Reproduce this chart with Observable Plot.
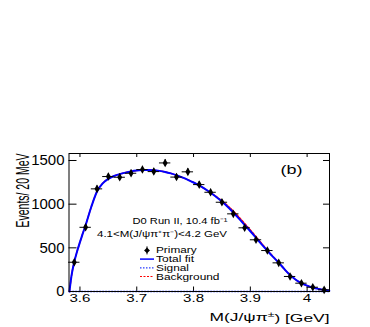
<!DOCTYPE html>
<html>
<head>
<meta charset="utf-8">
<script src="https://cdn.jsdelivr.net/npm/d3@7"></script>
<script src="https://cdn.jsdelivr.net/npm/@observablehq/plot@0.6"></script>
<style>
  html, body { margin: 0; padding: 0; background: #fff; }
  #chart { width: 370px; height: 327px; }
</style>
</head>
<body>
<div id="chart"></div>
<script>
// ---- data ----
const massBins = [3.59, 3.61, 3.63, 3.65, 3.67, 3.69, 3.71, 3.73, 3.75, 3.77, 3.79, 3.81, 3.83, 3.85, 3.87, 3.89, 3.91, 3.93, 3.95, 3.97, 3.99, 4.01, 4.03];
const counts   = [335, 735, 1175, 1316, 1308, 1354, 1396, 1373, 1472, 1310, 1370, 1224, 1136, 1022, 889, 729, 592, 469, 328, 172, 95, 49, 19];
const countErr = [18, 27, 34, 36, 36, 37, 37, 37, 38, 36, 37, 35, 34, 32, 30, 27, 24, 22, 18, 13, 10, 7, 4];

const fitMass = [3.5815, 3.585, 3.59, 3.595, 3.60, 3.605, 3.61, 3.62, 3.63, 3.64, 3.65, 3.66, 3.67, 3.68, 3.69, 3.70, 3.71, 3.72, 3.73, 3.74, 3.75, 3.76, 3.77, 3.78, 3.79, 3.80, 3.81, 3.82, 3.83, 3.84, 3.85, 3.86, 3.87, 3.88, 3.89, 3.90, 3.91, 3.92, 3.93, 3.94, 3.95, 3.96, 3.97, 3.98, 3.99, 4.00, 4.01, 4.02, 4.03, 4.039];
const fitTotal = [0, 175, 340, 460, 565, 665, 760, 970, 1145, 1238, 1290, 1322, 1344, 1361, 1375, 1385, 1390, 1392, 1389, 1381, 1369, 1352, 1331, 1306, 1279, 1248, 1214, 1174, 1130, 1082, 1030, 970, 905, 835, 762, 690, 615, 540, 467, 397, 330, 256, 188, 135, 95, 67, 46, 30, 17, 8];
const fitBackground = [0, 175, 340, 460, 565, 665, 760, 970, 1145, 1238, 1290, 1322, 1344, 1361, 1375, 1385, 1390, 1392, 1389, 1381, 1369, 1352, 1331, 1306, 1279, 1248, 1214, 1174, 1131, 1087, 1039, 983, 921, 852, 779, 705, 628, 550, 474, 400, 331, 256, 188, 135, 95, 67, 46, 30, 17, 8];
const fitSignal = [0, 0, 0, 0, 0, 0, 0, 0, 0, 0, 0, 0, 0, 0, 0, 0, 0, 0, 0, 0, 0, 0, 0, 0, 0, 0, 0, 0, 0, 0, 0, 0, 0, 0, 0, 0, 0, 0, 0, 0, 0, 0, 0, 0, 0, 0, 0, 0, 0, 0];

const xTicks = [3.6, 3.7, 3.8, 3.9, 4.0];
const xTickLabels = ["3.6", "3.7", "3.8", "3.9", "4"];
const yTicks = [0, 500, 1000, 1500];
const yTickLabels = ["0", "500", "1000", "1500"];
const legendLabels = ["Primary", "Total fit", "Signal", "Background"];
const xTitle = "M(J/ψπ±) [GeV]";
const yTitle = "Events/ 20 MeV";
const infoLines = ["D0 Run II, 10.4 fb⁻¹", "4.1<M(J/ψπ⁺π⁻)<4.2 GeV"];
const panelLabel = "(b)";
const binHalfWidth = 0.01;

// ---- tables ----
const points = massBins.map((m, i) => ({m, n: counts[i], e: countErr[i]}));
const curveRows = (ys) => fitMass.map((m, i) => ({m, v: ys[i]}));
const totalRows = curveRows(fitTotal);
const bgRows = curveRows(fitBackground);
const sigRows = curveRows(fitSignal);

// ---- layout ----
const W = 370, H = 327;
const mL = 68.5, mR = 41, mT = 153, mB = 36;
const FW = W - mL - mR, FH = H - mT - mB;
const font = "'Liberation Sans', Arial, Helvetica, sans-serif";

const plot = Plot.plot({
  width: W, height: H,
  marginLeft: mL, marginRight: mR, marginTop: mT, marginBottom: mB,
  style: {fontFamily: font, background: "#fff", color: "#000", overflow: "visible"},
  x: {domain: [3.5807, 4.0394]},
  y: {domain: [0, 1580]},
  marks: [
    // inward tick marks (ROOT style), on all four sides
    Plot.ruleX(xTicks, {x: d => d, insetTop: FH - 4.5, stroke: "#000", strokeWidth: 1}),
    Plot.ruleX(xTicks, {x: d => d, insetBottom: FH - 4, stroke: "#000", strokeWidth: 1}),
    Plot.ruleY(yTicks.slice(1), {y: d => d, insetRight: FW - 8, stroke: "#000", strokeWidth: 1}),
    Plot.ruleY(yTicks.slice(1), {y: d => d, insetLeft: FW - 6, stroke: "#000", strokeWidth: 1}),
    Plot.axisX(xTicks, {tickSize: 0, tickPadding: 2, label: null,
      tickFormat: d => xTickLabels[xTicks.indexOf(d)]}),
    Plot.axisY(yTicks, {tickSize: 0, tickPadding: 4.5, label: null,
      tickFormat: d => yTickLabels[yTicks.indexOf(d)]}),
    // fit components
    Plot.line(sigRows, {x: "m", y: "v", stroke: "#2a3cff", strokeWidth: 1.3, strokeDasharray: "1.5,1.5"}),
    Plot.line(bgRows, {x: "m", y: "v", stroke: "#ff0000", strokeWidth: 1.4, strokeDasharray: "2.5,1.5", curve: "monotone-x"}),
    Plot.line(totalRows, {x: "m", y: "v", stroke: "#0000ff", strokeWidth: 2, curve: "monotone-x"}),
    Plot.frame({stroke: "#000", strokeWidth: 1}),
    // data with error bars
    Plot.ruleY(points, {y: "n", x1: d => d.m - binHalfWidth, x2: d => d.m + binHalfWidth, stroke: "#000", strokeWidth: 1}),
    Plot.ruleX(points, {x: "m", y1: d => d.n - d.e, y2: d => d.n + d.e, stroke: "#000", strokeWidth: 1}),
    Plot.dot(points, {x: "m", y: "n", symbol: "diamond", r: 2.6, fill: "#000", stroke: "none"}),
    // text
    Plot.text([panelLabel], {frameAnchor: "top-left", dx: 222.5, dy: 12, text: d => d, textAnchor: "middle"}),
    Plot.text([infoLines[0]], {frameAnchor: "top-left", dx: 158.5, dy: 64.3, text: d => d, textAnchor: "end"}),
    Plot.text([infoLines[1]], {frameAnchor: "top-left", dx: 158, dy: 77.8, text: d => d, textAnchor: "end"}),
    Plot.text([xTitle], {frameAnchor: "bottom-right", dx: 0, dy: 29, text: d => d, textAnchor: "end"}),
    Plot.text([yTitle], {frameAnchor: "top-left", dx: -54, dy: 0, text: d => d, textAnchor: "end", rotate: -90})
  ]
});

// ---- text sizing: the reference is squashed vertically, so stretch glyphs horizontally ----
const spec = new Map([
  ["3.6", {size: 11.5, len: 21}], ["3.7", {size: 11.5, len: 21}], ["3.8", {size: 11.5, len: 21}],
  ["3.9", {size: 11.5, len: 21}], ["4", {size: 11.5, len: 8.5}],
  ["0", {size: 15}], ["500", {size: 15}], ["1000", {size: 15}], ["1500", {size: 15}],
  [panelLabel, {size: 12.5, len: 22}],
  [infoLines[0], {size: 8.5, len: 95}],
  [infoLines[1], {size: 8.5, len: 130}],
  [xTitle, {size: 11.5, len: 120}],
  [yTitle, {size: 19, len: 74}]
]);
d3.select(plot).selectAll("text").each(function () {
  const t = this.textContent;
  const s = spec.get(t);
  if (!s) return;
  this.style.fontSize = s.size + "px";
  if (t === xTitle) {
    const sel = d3.select(this);
    sel.text(null);
    sel.append("tspan").text("M(J/ψπ");
    sel.append("tspan").attr("dy", "-0.45em").style("font-size", "70%").text("±");
    sel.append("tspan").attr("dy", "0.45em").text(") [GeV]");
  }
  if (s.len) {
    this.setAttribute("textLength", s.len);
    this.setAttribute("lengthAdjust", "spacingAndGlyphs");
  }
});

// ---- legend ----
const svg = d3.select(plot);
const lg = svg.append("g").attr("font-family", font).attr("font-size", 9).attr("text-anchor", "start");
const legendTop = 250.4, legendStep = 8.7, legendWidths = [40.6, 38, 33, 63.5];
const legendStyles = [
  null,
  {stroke: "#0000ff", width: 1.5, dash: null},
  {stroke: "#2a3cff", width: 1.2, dash: "1.5,1.5"},
  {stroke: "#ff0000", width: 1.2, dash: "2,1.5"}
];
legendLabels.forEach((lab, i) => {
  const cy = legendTop + i * legendStep;
  if (i === 0) {
    lg.append("line").attr("x1", 147).attr("x2", 147).attr("y1", cy - 4).attr("y2", cy + 4).attr("stroke", "#000");
    lg.append("path").attr("d", d3.symbol(d3.symbolDiamond2, 22)()).attr("transform", `translate(147,${cy})`).attr("fill", "#000");
  } else {
    const st = legendStyles[i];
    lg.append("line").attr("x1", 140).attr("x2", 154).attr("y1", cy).attr("y2", cy)
      .attr("stroke", st.stroke).attr("stroke-width", st.width).attr("stroke-dasharray", st.dash);
  }
  lg.append("text").attr("x", 156).attr("y", cy + 3).attr("text-anchor", "start")
    .attr("textLength", legendWidths[i]).attr("lengthAdjust", "spacingAndGlyphs").text(lab);
});

document.getElementById("chart").appendChild(plot);
</script>
</body>
</html>
